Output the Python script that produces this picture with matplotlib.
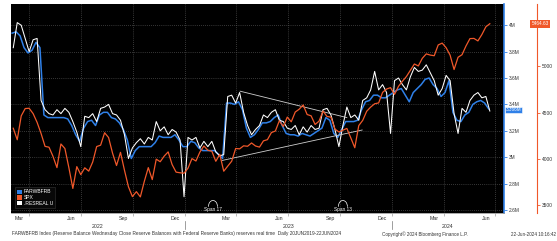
import numpy as np
import pandas as pd
import matplotlib
matplotlib.use("Agg")
import matplotlib.pyplot as plt
from matplotlib.patches import Arc, Patch
from matplotlib.lines import Line2D
from matplotlib.transforms import blended_transform_factory
import matplotlib.dates as mdates

plt.rcParams['font.family'] = ['Liberation Sans', 'DejaVu Sans']

# weekly observations (Wednesday reserve balances, Friday closes)
wed_dates = pd.date_range("2022-03-02", periods=121, freq="7D")
fri_dates = pd.date_range("2022-03-04", periods=121, freq="7D")

# FARWBFRB, reserve balances ("M")
farwbfrb = [3.94, 3.95, 3.92, 3.83, 3.79, 3.81, 3.87, 3.83, 3.32, 3.30,
            3.30, 3.30, 3.30, 3.30, 3.29, 3.24, 3.17, 3.12, 3.22, 3.27,
            3.28, 3.24, 3.32, 3.34, 3.34, 3.30, 3.29, 3.26, 3.21, 3.13,
            2.99, 3.05, 3.08, 3.08, 3.08, 3.08, 3.11, 3.16, 3.15, 3.15,
            3.15, 3.17, 3.13, 3.08, 3.08, 3.12, 3.11, 3.07, 3.05, 3.05,
            3.05, 3.05, 3.02, 2.99, 3.41, 3.41, 3.40, 3.42, 3.36, 3.22,
            3.15, 3.17, 3.21, 3.26, 3.26, 3.27, 3.30, 3.32, 3.24, 3.18,
            3.17, 3.17, 3.16, 3.18, 3.17, 3.16, 3.18, 3.20, 3.22, 3.30,
            3.28, 3.18, 3.15, 3.21, 3.27, 3.27, 3.27, 3.28, 3.36, 3.42,
            3.43, 3.47, 3.47, 3.45, 3.45, 3.47, 3.49, 3.51, 3.52, 3.47,
            3.42, 3.49, 3.52, 3.55, 3.59, 3.60, 3.55, 3.52, 3.46, 3.49,
            3.58, 3.34, 3.28, 3.27, 3.32, 3.34, 3.40, 3.42, 3.43, 3.41,
            3.366]

# .RESREAL U, real-time reserves estimate
resreal = [3.83, 4.02, 4.00, 3.90, 3.80, 3.89, 3.90, 3.43, 3.36, 3.33,
           3.32, 3.36, 3.33, 3.37, 3.34, 3.27, 3.19, 3.08, 3.31, 3.30,
           3.33, 3.27, 3.37, 3.38, 3.40, 3.33, 3.32, 3.28, 3.17, 2.99,
           3.07, 3.11, 3.14, 3.10, 3.15, 3.13, 3.27, 3.20, 3.23, 3.17,
           3.21, 3.19, 3.13, 2.70, 3.15, 3.13, 3.15, 3.07, 3.12, 3.08,
           3.12, 3.04, 3.01, 3.02, 3.46, 3.47, 3.41, 3.49, 3.34, 3.24,
           3.17, 3.21, 3.24, 3.32, 3.30, 3.34, 3.36, 3.28, 3.27, 3.22,
           3.21, 3.24, 3.17, 3.23, 3.19, 3.24, 3.21, 3.22, 3.36, 3.37,
           3.32, 3.21, 3.08, 3.24, 3.38, 3.30, 3.32, 3.28, 3.43, 3.45,
           3.51, 3.65, 3.51, 3.55, 3.49, 3.18, 3.58, 3.60, 3.55, 3.51,
           3.61, 3.68, 3.65, 3.66, 3.70, 3.64, 3.58, 3.47, 3.52, 3.62,
           3.58, 3.33, 3.18, 3.37, 3.34, 3.43, 3.47, 3.49, 3.45, 3.46,
           3.35]

# SPX weekly close
spx = [4329, 4204, 4463, 4543, 4546, 4488, 4393, 4272, 4132, 4123,
       4024, 3901, 4158, 4109, 3901, 3675, 3912, 3825, 3899, 3863,
       3962, 4130, 4145, 4280, 4228, 4058, 3924, 4067, 3873, 3693,
       3586, 3640, 3583, 3752, 3901, 3771, 3993, 3965, 4026, 4072,
       3934, 3852, 3845, 3840, 3895, 3999, 3973, 4071, 4136, 4090,
       4079, 3970, 4046, 3862, 3917, 3971, 4109, 4105, 4138, 4133,
       4169, 4136, 4124, 4192, 4205, 4282, 4299, 4410, 4348, 4450,
       4399, 4505, 4536, 4582, 4478, 4464, 4370, 4406, 4516, 4457,
       4450, 4320, 4288, 4308, 4327, 4224, 4117, 4358, 4415, 4514,
       4559, 4595, 4604, 4719, 4755, 4770, 4697, 4784, 4840, 4891,
       4959, 5027, 5006, 5089, 5137, 5124, 5117, 5234, 5254, 5204,
       5123, 4967, 5100, 5128, 5223, 5303, 5305, 5278, 5347, 5431,
       5464.63]

# drawn trend channel (start date, value) -> (end date, value)
upper_trend = (["2023-04-08", "2023-10-13"], [3.50, 3.30])
lower_trend = (["2023-03-07", "2023-11-09"], [2.975, 3.206])

res_ticks = [2.6, 2.8, 3.0, 3.2, 3.4, 3.6, 3.8, 4.0]
spx_ticks = [3500, 4000, 4500, 5000, 5500]
month_ticks = ["2022-03-15", "2022-06-15", "2022-09-15", "2022-12-15",
               "2023-03-15", "2023-06-15", "2023-09-15", "2023-12-15",
               "2024-03-15", "2024-06-15"]
month_labels = ["Mar", "Jun", "Sep", "Dec", "Mar", "Jun", "Sep", "Dec", "Mar", "Jun"]

BLUE = "#2f80e8"
ORANGE = "#f0582a"
TXT = "#333333"

fig = plt.figure(figsize=(5.57, 2.41), dpi=100)
ax = fig.add_axes([11 / 557, 28 / 241, 493 / 557, 209 / 241])
ax.set_facecolor("black")
ax2 = ax.twinx()

ax.plot(wed_dates, farwbfrb, color=BLUE, lw=1.1, zorder=3)
ax.plot(fri_dates, resreal, color="white", lw=0.75, zorder=4)
ax2.plot(fri_dates, spx, color=ORANGE, lw=0.9)

for xs, ys in (upper_trend, lower_trend):
    ax.plot(pd.to_datetime(xs), ys, color="#cfcfcf", lw=0.6, zorder=5)

ax.set_xlim(pd.Timestamp("2022-02-28"), pd.Timestamp("2024-07-16"))
ax.set_ylim(2.577, 4.161)
ax2.set_ylim(3408, 5679)

# x axis: quarter gridlines, labels mid-month
quarters = pd.date_range("2022-04-01", "2024-07-01", freq="QS")
ax.set_xticks(quarters)
ax.set_xticklabels([])
ax.set_xticks(pd.to_datetime(month_ticks), month_labels, minor=True)
ax.tick_params(axis="x", which="major", length=2, width=0.4, color="#888888")
ax.tick_params(axis="x", which="minor", length=0, pad=2, labelsize=3.8, labelcolor=TXT)
ax.grid(axis="x", which="major", color="#6a6a6a", ls=(0, (1, 2)), lw=0.5)

# reserves axis
ax.yaxis.tick_right()
ax.set_yticks(res_ticks)
ax.set_yticklabels([f"{round(v, 1):g}M" for v in res_ticks])
ax.tick_params(axis="y", length=2, width=0.6, color=BLUE, labelsize=3.5,
               labelcolor=TXT, pad=1.5)
ax.grid(axis="y", color="#6a6a6a", ls=(0, (1, 2)), lw=0.5)

# spx axis (top label sits under the last-value box)
ax2.spines["right"].set_position(("outward", 24))
ax2.set_yticks(spx_ticks)
ax2.set_yticklabels([str(v) if v < 5500 else "" for v in spx_ticks])
ax2.tick_params(axis="y", length=2, width=0.6, color=ORANGE, labelsize=3.5,
                labelcolor=TXT, pad=1.5)

for a in (ax, ax2):
    for s in ("top", "left"):
        a.spines[s].set_visible(False)
ax.spines["right"].set_color(BLUE)
ax.spines["right"].set_linewidth(1.2)
ax.spines["bottom"].set_color("#9a9a9a")
ax.spines["bottom"].set_linewidth(0.6)
ax2.spines["bottom"].set_visible(False)
ax2.spines["right"].set_color(ORANGE)
ax2.spines["right"].set_linewidth(0.8)

# last-value boxes
tr_res = blended_transform_factory(ax.transAxes, ax.transData)
tr_spx = blended_transform_factory(ax.transAxes, ax2.transData)
ax.text(1.004, farwbfrb[-1] - 0.006, f"{farwbfrb[-1]:.3f}M", transform=tr_res,
        fontsize=3.3, color="white", ha="left", va="center", clip_on=False,
        zorder=7, bbox=dict(boxstyle="square,pad=0.12", fc=BLUE, ec="white", lw=0.4))
ax2.text(1.056, spx[-1], f"{spx[-1]:.2f}", transform=tr_spx,
         fontsize=3.4, color="white", ha="left", va="center", clip_on=False,
         bbox=dict(boxstyle="square,pad=0.3", fc=ORANGE, ec="none"))

# year labels and dividers below the axis
tr_year = blended_transform_factory(ax.transData, fig.transFigure)
years = [("2022", "2022-07-31"), ("2023", "2023-07-02"), ("2024", "2024-04-08")]
for lab, d in years:
    fig.text(mdates.date2num(pd.Timestamp(d)), 1 - 226 / 241, lab,
             transform=tr_year, fontsize=3.8, color=TXT, ha="center", va="center")
for d in ("2023-01-01", "2024-01-01"):
    xd = mdates.date2num(pd.Timestamp(d))
    fig.add_artist(Line2D([xd, xd], [1 - 221 / 241, 1 - 229 / 241],
                          transform=tr_year, color="#777777", lw=0.5))

# span markers
tr_span = blended_transform_factory(ax.transData, ax.transAxes)
for lab, d in (("Span 17", "2023-02-19"), ("Span 13", "2023-10-06")):
    xd = mdates.date2num(pd.Timestamp(d))
    ax2.text(xd, 0.015, lab, transform=tr_span, fontsize=3.4, color="white",
             ha="center", va="center")
    ax2.add_patch(Arc((xd, 0.03), 16, 0.06, theta1=0, theta2=180,
                      transform=tr_span, color="white", lw=0.5))

# legend
handles = [Patch(facecolor=BLUE), Patch(facecolor=ORANGE), Patch(facecolor="white")]
leg = ax2.legend(handles, ["FARWBFRB", "SPX", ".RESREAL U"], loc="lower left",
                 bbox_to_anchor=(0.004, 0.012), fontsize=3.6, handlelength=0.9,
                 handleheight=0.9, handletextpad=0.4, labelspacing=0.15,
                 borderpad=0.4, frameon=True, fancybox=False, framealpha=1,
                 facecolor="#080808", edgecolor="#2a2a2a", labelcolor="white")
leg.get_frame().set_linewidth(0.5)

# footer
fy = 1 - 234 / 241
fig.text(12 / 557, fy, "FARWBFRB Index (Reserve Balance Wednesday Close Reserve Balances with "
         "Federal Reserve Banks) reserves real time  Daily 20JUN2019-22JUN2024",
         fontsize=3.45, color=TXT, ha="left", va="center")
fig.text(382 / 557, fy, "Copyright\u00a9 2024 Bloomberg Finance L.P.",
         fontsize=3.3, color=TXT, ha="left", va="center")
fig.text(0.998, fy, "22-Jun-2024 10:16:42", fontsize=3.3, color=TXT,
         ha="right", va="center")

fig.savefig("out.png", dpi=100, facecolor="white")
